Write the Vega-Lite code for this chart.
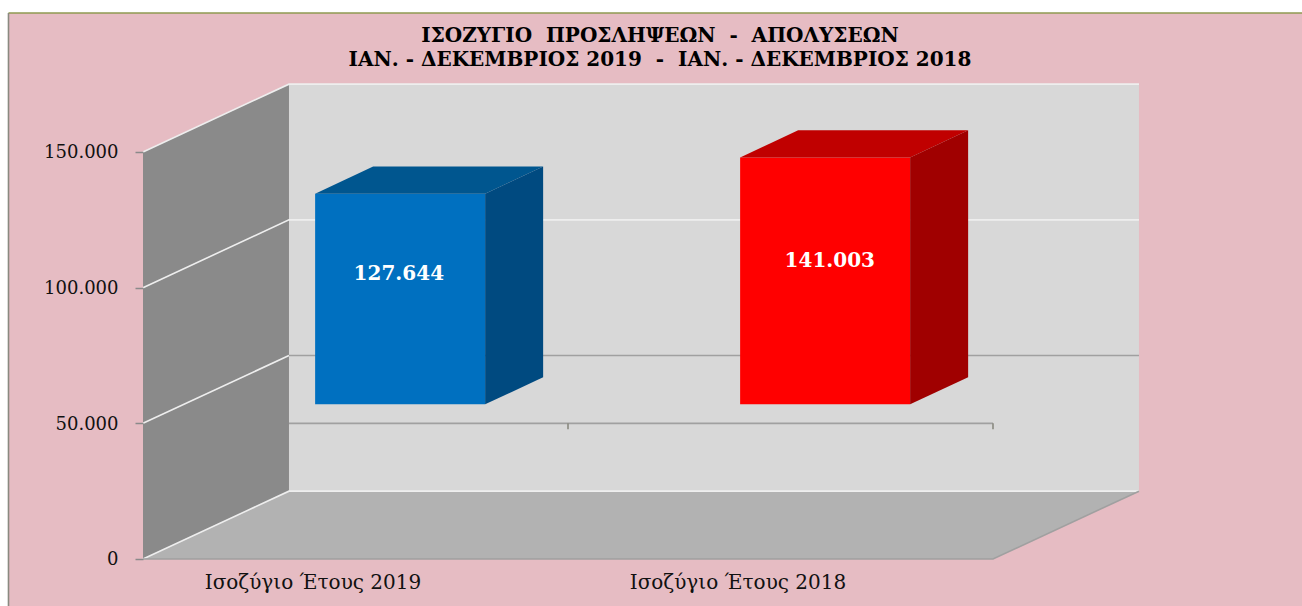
{
"$schema":"https://vega.github.io/schema/vega-lite/v6.json",
"width":1302,"height":606,"padding":0,"autosize":{"type":"none"},"background":"#ffffff",
"config":{"view":{"stroke":null},"font":"DejaVu Serif"},
"title":{"text":["ΙΣΟΖΥΓΙΟ\u00a0\u00a0ΠΡΟΣΛΗΨΕΩΝ\u00a0\u00a0-\u00a0\u00a0ΑΠΟΛΥΣΕΩΝ","ΙΑΝ. - ΔΕΚΕΜΒΡΙΟΣ 2019\u00a0\u00a0-\u00a0\u00a0ΙΑΝ. - ΔΕΚΕΜΒΡΙΟΣ 2018"],"font":"DejaVu Serif","fontWeight":"bold","fontSize":20,"lineHeight":24,"color":"#000000","anchor":"middle","frame":"group","dx":9,"baseline":"top","offset":-70},
"datasets":{
"page":[{"x":-0.3165,"x2":2.72706,"y":-17322,"y2":201228}],
"walls":[
{"part":"side","x":0,"low":0,"high":150000},{"part":"side","x":0.3435,"low":25000,"high":175000},
{"part":"back","x":0.3435,"low":25000,"high":175000},{"part":"back","x":2.3435,"low":25000,"high":175000},
{"part":"floor","x":0,"low":0,"high":0},{"part":"floor","x":0.3435,"low":0,"high":25000},{"part":"floor","x":2,"low":0,"high":25000},{"part":"floor","x":2.3435,"low":25000,"high":25000}],
"lines":[
{"line":"frameTop","tone":"olive","x":-0.3165,"y":201228},{"line":"frameTop","tone":"olive","x":2.72706,"y":201228},
{"line":"frameLeft","tone":"frame","x":-0.3165,"y":201228},{"line":"frameLeft","tone":"frame","x":-0.3165,"y":-17322},
{"line":"g150","tone":"light","x":0,"y":150000},{"line":"g150","tone":"light","x":0.3435,"y":175000},{"line":"g150","tone":"light","x":2.3435,"y":175000},
{"line":"g100","tone":"light","x":0,"y":100000},{"line":"g100","tone":"light","x":0.3435,"y":125000},{"line":"g100","tone":"light","x":2.3435,"y":125000},
{"line":"g50s","tone":"light","x":0,"y":50000},{"line":"g50s","tone":"light","x":0.3435,"y":75000},
{"line":"g50b","tone":"grey","x":0.3435,"y":75000},{"line":"g50b","tone":"grey","x":2.3435,"y":75000},
{"line":"g0","tone":"light","x":0,"y":0},{"line":"g0","tone":"light","x":0.3435,"y":25000},{"line":"g0","tone":"light","x":2.3435,"y":25000},
{"line":"floorEdge","tone":"grey","x":0,"y":0},{"line":"floorEdge","tone":"grey","x":2,"y":0},{"line":"floorEdge","tone":"grey","x":2.3435,"y":25000},
{"line":"xaxis","tone":"grey","x":0.3435,"y":50000},{"line":"xaxis","tone":"grey","x":2,"y":50000},
{"line":"tick1","tone":"frame","x":1,"y":50000},{"line":"tick1","tone":"frame","x":1,"y":47800},
{"line":"tick2","tone":"frame","x":2,"y":50000},{"line":"tick2","tone":"frame","x":2,"y":47800}],
"bars":[{"cat":"Ισοζύγιο Έτους 2019","pos":0.5,"value":127644},{"cat":"Ισοζύγιο Έτους 2018","pos":1.5,"value":141003}]
},
"layer":[
{"data":{"name":"page"},"mark":{"type":"rect","fill":"#e6bcc3"},
 "encoding":{
  "x":{"field":"x","type":"quantitative","scale":{"domain":[-0.33647,2.72706],"nice":false,"zero":false},"axis":null},
  "x2":{"field":"x2"},
  "y":{"field":"y","type":"quantitative","scale":{"domain":[-17322,206019],"nice":false,"zero":false},
   "axis":{"orient":"left","offset":-143,"zindex":1,"values":[0,50000,100000,150000],"labelExpr":"replace(format(datum.value,','),',','.')","title":null,"grid":false,"domain":false,"tickSize":8,"tickColor":"#8a8a8a","tickWidth":1.5,"labelFont":"DejaVu Serif","labelFontSize":18,"labelColor":"#111111","labelPadding":17,"labelOffset":1}},
  "y2":{"field":"y2"}}},
{"data":{"name":"walls"},"mark":{"type":"area","line":false},
 "encoding":{
  "x":{"field":"x","type":"quantitative","scale":{"domain":[-0.33647,2.72706],"nice":false,"zero":false},"axis":null},
  "y":{"field":"low","type":"quantitative","scale":{"domain":[-17322,206019],"nice":false,"zero":false}},
  "y2":{"field":"high"},
  "color":{"field":"part","type":"nominal","scale":{"domain":["side","back","floor"],"range":["#8a8a8a","#d8d8d8","#b2b2b2"]},"legend":null}}},
{"data":{"name":"lines"},"mark":{"type":"line","strokeWidth":1.6},
 "encoding":{
  "x":{"field":"x","type":"quantitative","scale":{"domain":[-0.33647,2.72706],"nice":false,"zero":false},"axis":null},
  "y":{"field":"y","type":"quantitative","scale":{"domain":[-17322,206019],"nice":false,"zero":false}},
  "detail":{"field":"line"},
  "color":{"field":"tone","type":"nominal","scale":{"domain":["olive","frame","light","grey"],"range":["#8f9a50","#8a8a80","#eeeeee","#a0a0a0"]},"legend":null}}},
{"data":{"name":"bars"},
 "transform":[{"calculate":"datum.pos-0.095","as":"x0"},{"calculate":"datum.x0+0.4","as":"x1"},{"calculate":"datum.value+7000","as":"top"},{"calculate":"57000","as":"base"}],
 "mark":{"type":"rect"},
 "encoding":{
  "x":{"field":"x0","type":"quantitative","scale":{"domain":[-0.33647,2.72706],"nice":false,"zero":false},"axis":null},
  "x2":{"field":"x1"},
  "y":{"field":"top","type":"quantitative","scale":{"domain":[-17322,206019],"nice":false,"zero":false}},
  "y2":{"field":"base"},
  "color":{"field":"cat","type":"nominal","scale":{"domain":["Ισοζύγιο Έτους 2019","Ισοζύγιο Έτους 2018"],"range":["#0070c0","#ff0000"]},"legend":null}}},
{"data":{"name":"bars"},
 "transform":[{"calculate":"datum.pos-0.095","as":"x0"},{"calculate":"datum.value+7000","as":"top"},{"calculate":"[0,1,2,3]","as":"k"},{"flatten":["k"]},
  {"calculate":"datum.x0+[0,0.1365,0.4,0.5365][datum.k]","as":"xv"},{"calculate":"datum.top+[0,0,0,10000][datum.k]","as":"lo"},{"calculate":"datum.top+[0,10000,10000,10000][datum.k]","as":"hi"}],
 "mark":{"type":"area"},
 "encoding":{
  "x":{"field":"xv","type":"quantitative","scale":{"domain":[-0.33647,2.72706],"nice":false,"zero":false},"axis":null},
  "y":{"field":"lo","type":"quantitative","scale":{"domain":[-17322,206019],"nice":false,"zero":false}},
  "y2":{"field":"hi"},
  "color":{"field":"cat","type":"nominal","scale":{"domain":["Ισοζύγιο Έτους 2019","Ισοζύγιο Έτους 2018"],"range":["#00568f","#c00000"]},"legend":null}}},
{"data":{"name":"bars"},
 "transform":[{"calculate":"datum.pos+0.305","as":"x1"},{"calculate":"[0,1]","as":"k"},{"flatten":["k"]},
  {"calculate":"datum.x1+0.1365*datum.k","as":"xv"},{"calculate":"57000+10000*datum.k","as":"lo"},{"calculate":"datum.value+7000+10000*datum.k","as":"hi"}],
 "mark":{"type":"area"},
 "encoding":{
  "x":{"field":"xv","type":"quantitative","scale":{"domain":[-0.33647,2.72706],"nice":false,"zero":false},"axis":null},
  "y":{"field":"lo","type":"quantitative","scale":{"domain":[-17322,206019],"nice":false,"zero":false}},
  "y2":{"field":"hi"},
  "color":{"field":"cat","type":"nominal","scale":{"domain":["Ισοζύγιο Έτους 2019","Ισοζύγιο Έτους 2018"],"range":["#004a80","#a00000"]},"legend":null}}},
{"data":{"name":"bars"},
 "transform":[{"calculate":"0.602+(datum.pos-0.5)*1.014","as":"xc"},{"calculate":"0.36*datum.value+59000","as":"yc"},{"calculate":"replace(format(datum.value,','),',','.')","as":"txt"}],
 "mark":{"type":"text","font":"DejaVu Serif","fontWeight":"bold","fontSize":20,"color":"#ffffff"},
 "encoding":{
  "x":{"field":"xc","type":"quantitative","scale":{"domain":[-0.33647,2.72706],"nice":false,"zero":false},"axis":null},
  "y":{"field":"yc","type":"quantitative","scale":{"domain":[-17322,206019],"nice":false,"zero":false}},
  "text":{"field":"txt"}}},
{"data":{"name":"bars"},
 "transform":[{"calculate":"datum.pos-0.1","as":"xc"},{"calculate":"-8800","as":"yc"}],
 "mark":{"type":"text","font":"DejaVu Serif","fontSize":20,"color":"#111111"},
 "encoding":{
  "x":{"field":"xc","type":"quantitative","scale":{"domain":[-0.33647,2.72706],"nice":false,"zero":false},"axis":null},
  "y":{"field":"yc","type":"quantitative","scale":{"domain":[-17322,206019],"nice":false,"zero":false}},
  "text":{"field":"cat"}}}
],
"resolve":{"scale":{"color":"independent"}}
}
